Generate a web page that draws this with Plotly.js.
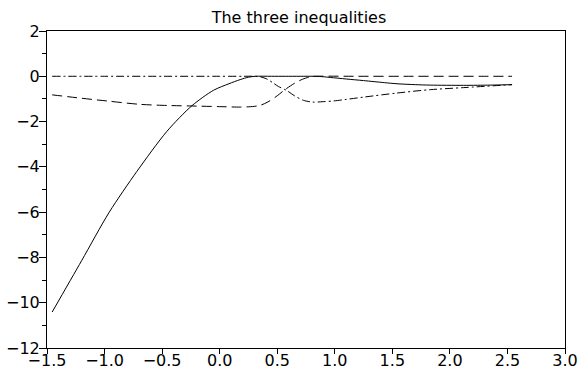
<!DOCTYPE html>
<html>
<head>
<meta charset="utf-8">
<script src="https://cdn.plot.ly/plotly-3.0.1.min.js"></script>
<style>html,body{margin:0;padding:0;background:#fff;}#chart{width:581px;height:370px;}</style>
</head>
<body>
<div id="chart"></div>
<script>
// Data
const solidX = [-1.455, -1.2, -0.959, -0.719, -0.458, -0.241, -0.054, 0.08, 0.178, 0.25, 0.31, 0.45, 0.57, 0.7, 0.83, 0.9, 0.96, 1.1, 1.25, 1.43, 1.54, 1.7, 1.83, 2.12, 2.35, 2.54];
const solidY = [-10.41, -8.15, -6.0, -4.2, -2.43, -1.3, -0.62, -0.33, -0.147, -0.04, 0, 0, 0, 0, 0, -0.02, -0.05, -0.12, -0.19, -0.28, -0.33, -0.37, -0.39, -0.40, -0.39, -0.37];

const dashX = [-1.455, -1.2, -0.98, -0.69, -0.45, -0.26, 0.0, 0.18, 0.3, 0.36, 0.42, 0.5, 0.57, 0.65, 0.72, 0.79, 0.83, 1.2, 1.6, 2.0, 2.3, 2.54];
const dashY = [-0.82, -0.97, -1.09, -1.24, -1.29, -1.31, -1.34, -1.36, -1.33, -1.27, -1.13, -0.86, -0.58, -0.31, -0.13, -0.02, 0, 0, 0, 0, 0, 0];

const dotX = [-1.455, -1.0, -0.5, 0.0, 0.2, 0.31, 0.36, 0.41, 0.46, 0.51, 0.58, 0.65, 0.727, 0.81, 0.9, 0.99, 1.10, 1.25, 1.54, 1.83, 2.12, 2.54];
const dotY = [0, 0, 0, 0, 0, 0, -0.03, -0.12, -0.28, -0.45, -0.62, -0.86, -1.06, -1.14, -1.12, -1.09, -1.02, -0.92, -0.74, -0.59, -0.50, -0.37];

const titleText = "The three inequalities";

const font = {family: "DejaVu Sans", size: 16, color: "#000"};

const traces = [
  {x: solidX, y: solidY, mode: "lines", line: {color: "#000", width: 1, dash: "solid", shape: "spline", smoothing: 0.8}},
  {x: dashX, y: dashY, mode: "lines", line: {color: "#000", width: 1, dash: "10px,5px", shape: "spline", smoothing: 0.8}},
  {x: dotX, y: dotY, mode: "lines", line: {color: "#000", width: 1, dash: "8px,3px,2px,3px", shape: "spline", smoothing: 0.8}}
];

const axisCommon = {
  showline: true, linecolor: "#000", linewidth: 1, mirror: true,
  showgrid: false, zeroline: false, ticks: "outside", tickcolor: "#000", tickwidth: 1,
  tickfont: font
};

const layout = {
  width: 581, height: 370,
  margin: {l: 47, r: 16, t: 31, b: 22, pad: 0},
  paper_bgcolor: "#fff", plot_bgcolor: "#fff",
  showlegend: false,
  font: font,
  title: {text: titleText, font: font, x: 0.5146, xanchor: "center", y: 1 - 17/370, yanchor: "middle"},
  xaxis: Object.assign({}, axisCommon, {range: [-1.5, 3], tick0: -1.5, dtick: 0.5, tickformat: ".1f", ticklen: 5, ticklabelstandoff: -7}),
  yaxis: Object.assign({}, axisCommon, {range: [-12, 2], tick0: 0, dtick: 2, ticklen: 7, ticklabelstandoff: -4,
    minor: {dtick: 1, ticks: "outside", ticklen: 4, tickcolor: "#000", tickwidth: 1, showgrid: false}})
};

Plotly.newPlot("chart", traces, layout, {staticPlot: true, displayModeBar: false});
</script>
</body>
</html>
